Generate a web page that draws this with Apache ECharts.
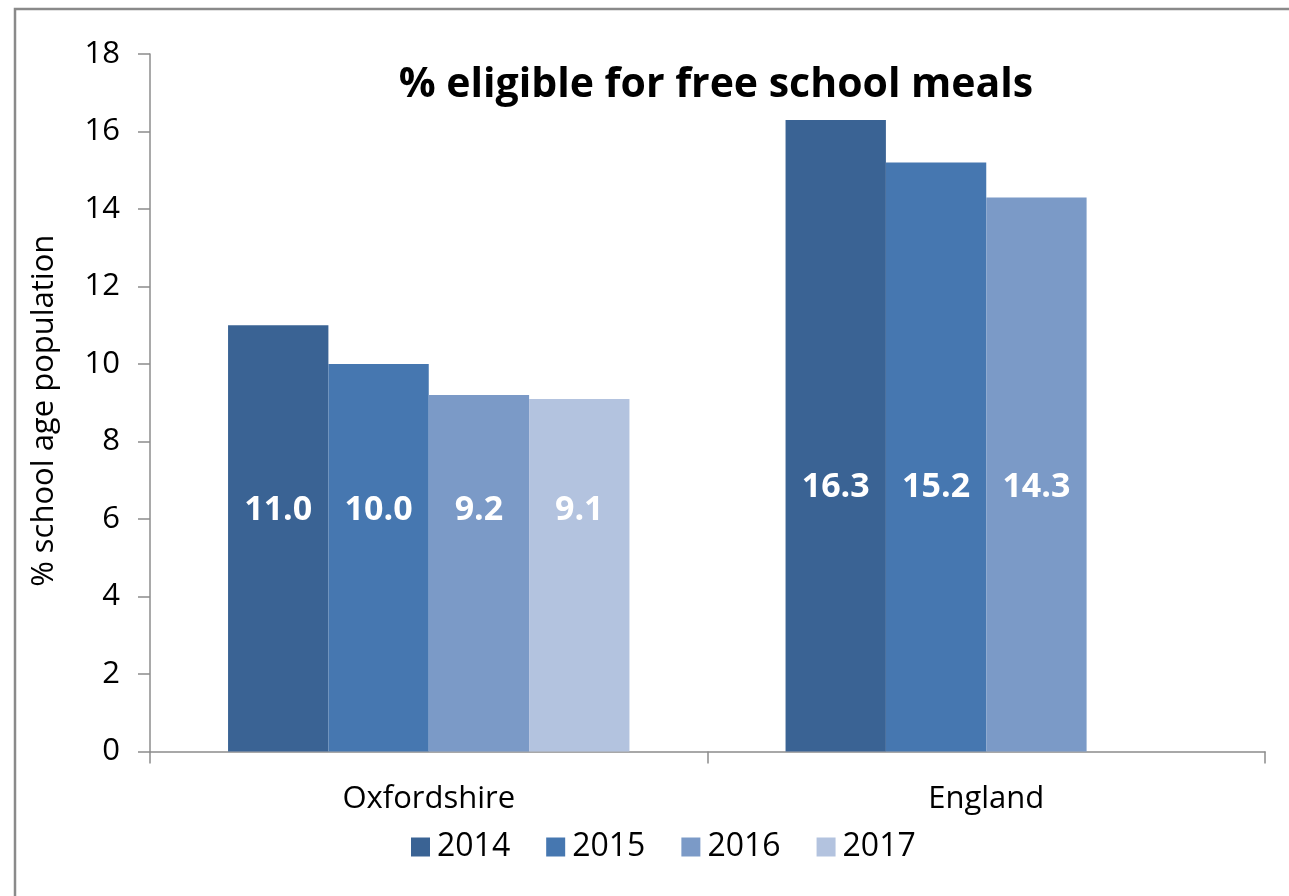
<!DOCTYPE html>
<html>
<head>
<meta charset="utf-8">
<script src="https://cdn.jsdelivr.net/npm/echarts@6/dist/echarts.min.js"></script>
<style>
html,body{margin:0;padding:0;background:#fff;}
#chart{width:1289px;height:896px;}
</style>
</head>
<body>
<div id="chart"></div>
<script>
var categories = ['Oxfordshire', 'England'];
var years = ['2014', '2015', '2016', '2017'];
var values2014 = [11.0, 16.3];
var values2015 = [10.0, 15.2];
var values2016 = [9.2, 14.3];
var values2017 = [9.1, null];
var yTicks = [0, 2, 4, 6, 8, 10, 12, 14, 16, 18];

var seriesValues = [values2014, values2015, values2016, values2017];
var colors = ['#3A6394', '#4677B0', '#7B9AC7', '#B3C3DF'];
// label placement per category (distance from bar base, px)
var labelDistance = {'Oxfordshire': 223, 'England': 246};
var FONT = 'Open Sans';

var chart = echarts.init(document.getElementById('chart'), null, {renderer: 'canvas'});

var series = years.map(function (y, i) {
  return {
    name: y,
    type: 'bar',
    barGap: '0%',
    barCategoryGap: '28%',
    itemStyle: {color: colors[i]},
    data: seriesValues[i].map(function (v, j) {
      return {
        value: v,
        label: {distance: labelDistance[categories[j]]}
      };
    }),
    label: {
      show: true,
      position: 'insideBottom',
      color: '#ffffff',
      fontFamily: FONT,
      fontWeight: 'bold',
      fontSize: 34,
      lineHeight: 36,
      formatter: function (p) { return p.value == null ? '' : Number(p.value).toFixed(1); }
    }
  };
});

chart.setOption({
  animation: false,
  backgroundColor: '#ffffff',
  color: colors,
  title: {
    text: '% eligible for free school meals',
    left: 711,
    top: 60,
    textAlign: 'center',
    textStyle: {fontFamily: FONT, fontWeight: 'bold', fontSize: 41, color: '#000'}
  },
  legend: {
    data: years,
    left: 406,
    top: 826,
    icon: 'rect',
    itemWidth: 19,
    itemHeight: 19,
    itemGap: 36,
    textStyle: {fontFamily: FONT, fontSize: 32, color: '#000', padding: [0, 0, 0, 2]}
  },
  grid: {left: 150, right: 24, top: 54, bottom: 144.5, containLabel: false},
  xAxis: {
    type: 'category',
    data: categories,
    axisLine: {lineStyle: {color: '#8c8c8c', width: 1.5}},
    axisTick: {show: true, length: 12, lineStyle: {color: '#8c8c8c', width: 1.5}},
    axisLabel: {fontFamily: FONT, fontSize: 31, color: '#000', margin: 32}
  },
  yAxis: {
    type: 'value',
    min: yTicks[0],
    max: yTicks[yTicks.length - 1],
    interval: 2,
    name: '% school age population',
    nameLocation: 'middle',
    nameGap: 90,
    nameTextStyle: {fontFamily: FONT, fontSize: 31, color: '#000', padding: [0, 16, 0, 0]},
    splitLine: {show: false},
    axisLine: {show: true, lineStyle: {color: '#8c8c8c', width: 1.5}},
    axisTick: {show: true, length: 12, lineStyle: {color: '#8c8c8c', width: 1.5}},
    axisLabel: {fontFamily: FONT, fontSize: 31, color: '#000', margin: 30}
  },
  graphic: [{
    type: 'rect',
    shape: {x: 15, y: 9, width: 1400, height: 1000},
    style: {fill: 'none', stroke: '#8a8a8a', lineWidth: 2.5},
    silent: true
  }],
  series: series
});
</script>
</body>
</html>
